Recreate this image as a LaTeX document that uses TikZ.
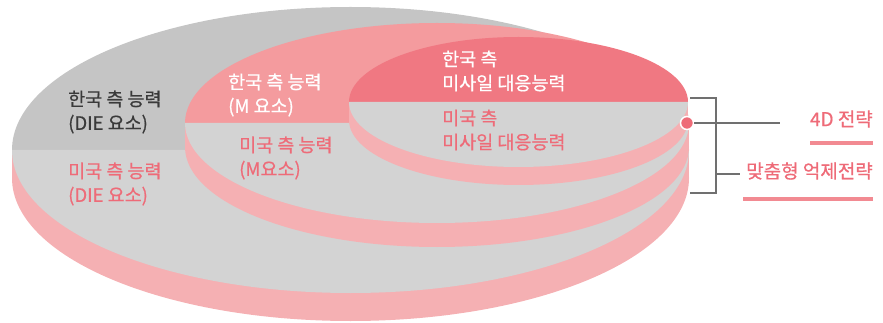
\documentclass[tikz,border=0pt]{standalone}
\usepackage{fontspec}
\newfontfamily\kr[FakeBold=0.6]{Noto Sans CJK KR}
\definecolor{gdark}{HTML}{C5C5C5}
\definecolor{glight}{HTML}{D3D3D3}
\definecolor{side}{HTML}{F5B0B3}
\definecolor{midtop}{HTML}{F49B9E}
\definecolor{intop}{HTML}{F07882}
\definecolor{pinktxt}{HTML}{EE6B78}
\definecolor{darktxt}{HTML}{3A3A3A}
\definecolor{linegray}{HTML}{707070}
\definecolor{bar}{HTML}{F28A92}
\tikzset{
  lbl/.style={anchor=west, align=left, inner sep=0pt, font=\kr\fontsize{18.5}{24}\selectfont},
  rlbl/.style={anchor=east, inner sep=0pt, text=pinktxt, font=\kr\fontsize{19}{20}\selectfont},
  conn/.style={draw=linegray, line width=1.1pt},
}
\newcommand{\disk}[7]{% cx cy a b t topcolor bottomcolor
  \fill[side] (#1-#3,#2) rectangle (#1+#3,#2+#5);
  \fill[side] (#1,#2+#5) ellipse [x radius=#3pt, y radius=#4pt];
  \fill[#6] (#1-#3,#2) arc[start angle=180, end angle=0, x radius=#3pt, y radius=#4pt] -- cycle;
  \fill[#7] (#1-#3,#2) arc[start angle=180, end angle=360, x radius=#3pt, y radius=#4pt] -- cycle;
}
\begin{document}
\begin{tikzpicture}[x=1pt,y=-1pt]
\useasboundingbox (0,0) rectangle (883,323);
\disk{350.5}{150}{338.5}{143}{28}{gdark}{glight}
\disk{437}{123}{252}{100}{24}{midtop}{glight}
\disk{518.5}{102}{169.5}{65}{18}{intop}{glight}
% texts
\node[lbl, text=darktxt] (a1) at (68,112) {한국 측 능력\\(DIE 요소)};
\node[lbl, text=pinktxt] (a2) at (68,184) {미국 측 능력\\(DIE 요소)};
\node[lbl, text=white] (b1) at (228,95) {한국 측 능력\\(M 요소)};
\node[lbl, text=pinktxt] (b2) at (239,158) {미국 측 능력\\(M요소)};
\node[lbl, text=white] (c1) at (442,71) {한국 측\\미사일 대응능력};
\node[lbl, text=pinktxt] (c2) at (442,130) {미국 측\\미사일 대응능력};
% right annotations
\coordinate (bt) at (690,98);
\coordinate (bb) at (690,193);
\coordinate (bm) at (740,174);
\coordinate (le) at (780,123);
\draw[conn] (bt) -- (716,98) -- (716,193) -- (bb);
\draw[conn] (716,174) -- (bm);
\node[circle, fill=pinktxt, draw=white, line width=1.5pt, minimum size=13pt, inner sep=0pt] (dot) at (687,123) {};
\draw[conn] (dot) -- (le);
\node[rlbl] (s1) at (873,119) {4D 전략};
\node[rlbl] (s2) at (873,171) {맞춤형 억제전략};
\fill[bar] (810,141) rectangle (873,145);
\fill[bar] (743,197) rectangle (873,201);
\end{tikzpicture}
\end{document}
